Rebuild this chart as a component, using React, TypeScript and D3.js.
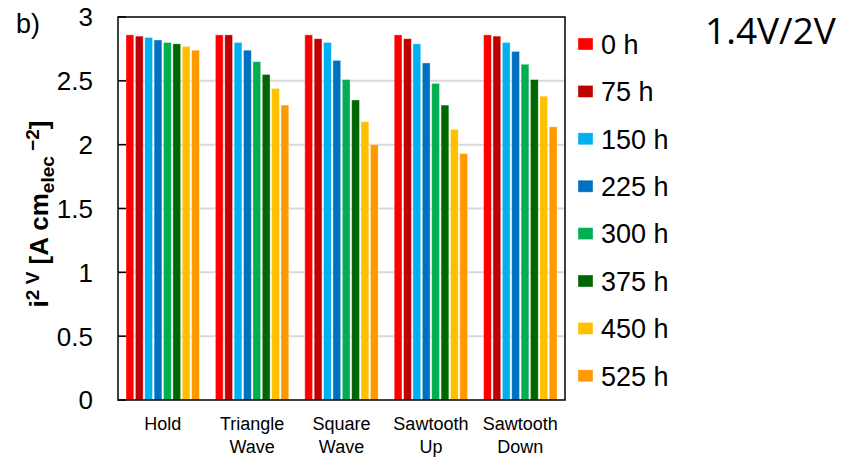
import React from "react";
import * as d3 from "d3";

const categories = [["Hold"], ["Triangle", "Wave"], ["Square", "Wave"], ["Sawtooth", "Up"], ["Sawtooth", "Down"]];
const seriesNames = ["0 h", "75 h", "150 h", "225 h", "300 h", "375 h", "450 h", "525 h"];
const seriesColors = ["#FF0000", "#C00000", "#00B0F0", "#0070C0", "#00B050", "#006600", "#FFC000", "#FF9900"];
const hold = [2.86, 2.85, 2.84, 2.82, 2.8, 2.79, 2.77, 2.74];
const triangleWave = [2.86, 2.86, 2.8, 2.74, 2.65, 2.55, 2.44, 2.31];
const squareWave = [2.86, 2.83, 2.8, 2.66, 2.51, 2.35, 2.18, 2.0];
const sawtoothUp = [2.86, 2.83, 2.79, 2.64, 2.48, 2.31, 2.12, 1.93];
const sawtoothDown = [2.86, 2.85, 2.8, 2.73, 2.63, 2.51, 2.38, 2.14];
const values = [hold, triangleWave, squareWave, sawtoothUp, sawtoothDown];
const yTicks = [0, 0.5, 1, 1.5, 2, 2.5, 3];

const W = 844, H = 459;
const left = 118, right = 565, top = 17, bottom = 400;
const font = "Liberation Sans, Arial, sans-serif";

export default function App() {
  const x = d3.scaleBand<number>().domain(d3.range(categories.length)).range([left, right]).paddingInner(0).paddingOuter(0);
  const inner = d3.scaleBand<number>().domain(d3.range(seriesNames.length)).range([8, x.bandwidth() - 8]).paddingInner(0.17);
  const y = d3.scaleLinear().domain([0, 3]).range([bottom, top]);

  return (
    <svg width={W} height={H} style={{ position: "absolute", left: 0, top: 0, background: "#fff" }}>
      {yTicks.slice(1, -1).map((t) => (
        <line key={"g" + t} x1={left} x2={right} y1={y(t)} y2={y(t)} stroke="#d9d9d9" strokeWidth={2} />
      ))}
      {values.map((vals, ci) =>
        vals.map((v, si) => (
          <rect
            key={ci + "-" + si}
            x={x(ci)! + inner(si)!}
            y={y(v)}
            width={inner.bandwidth()}
            height={bottom - y(v)}
            fill={seriesColors[si]}
            stroke="#fff"
            strokeOpacity={0.45}
            strokeWidth={0.8}
          />
        ))
      )}
      <rect x={left} y={top} width={right - left} height={bottom - top} fill="none" stroke="#000" strokeWidth={1.5} />
      {yTicks.map((t) => (
        <g key={"t" + t}>
          <line x1={left} x2={left + 8} y1={y(t)} y2={y(t)} stroke="#000" strokeWidth={1.5} />
          <text x={93} y={y(t)} dy="0.36em" textAnchor="end" fontFamily={font} fontSize={26} fill="#000">
            {t}
          </text>
        </g>
      ))}
      {categories.map((lines, ci) => (
        <text key={"c" + ci} x={x(ci)! + x.bandwidth() / 2} y={430} textAnchor="middle" fontFamily={font} fontSize={18} fill="#000">
          {lines.map((l, li) => (
            <tspan key={li} x={x(ci)! + x.bandwidth() / 2} dy={li === 0 ? 0 : 23}>
              {l}
            </tspan>
          ))}
        </text>
      ))}
      <text x={16} y={33} fontFamily={font} fontSize={27} fill="#000">b)</text>
      <text
        transform={`translate(48, 214) rotate(-90)`}
        textAnchor="middle"
        fontFamily={font}
        fontSize={26}
        fontWeight="bold"
        fill="#000"
      >
        i<tspan dy={-9} fontSize={19}>2 V</tspan>
        <tspan dy={9}> [A cm</tspan>
        <tspan dy={6} fontSize={19}>elec</tspan>
        <tspan dy={-15} fontSize={19}> −2</tspan>
        <tspan dy={9}>]</tspan>
      </text>
      {seriesNames.map((n, si) => {
        const ly = 44 + si * 47.4;
        return (
          <g key={"l" + si}>
            <rect x={578} y={ly - 6} width={15} height={12} fill={seriesColors[si]} stroke="#fff" strokeOpacity={0.45} strokeWidth={0.8} />
            <text x={601} y={ly} dy="0.36em" fontFamily={font} fontSize={27} fill="#000">
              {n}
            </text>
          </g>
        );
      })}
      <text x={705} y={44} fontFamily="Open Sans, Noto Sans, sans-serif" fontSize={37} fill="#000">1.4V/2V</text>
    </svg>
  );
}
